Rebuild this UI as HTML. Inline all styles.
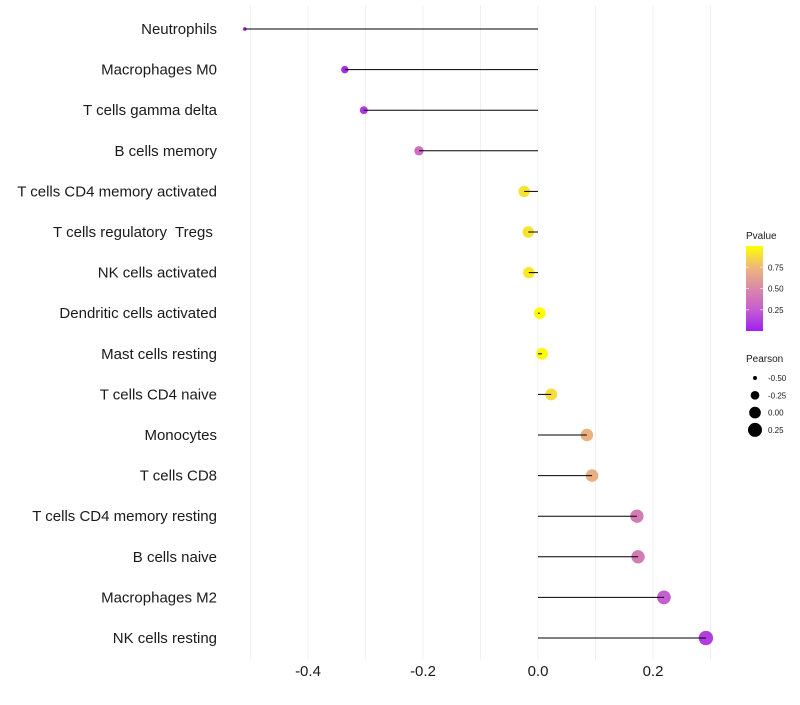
<!DOCTYPE html>
<html><head><meta charset="utf-8"><style>
body{margin:0;background:#fff;font-family:"Liberation Sans",sans-serif}
svg text{font-family:"Liberation Sans",sans-serif;white-space:pre}
</style></head><body>
<svg id="chart" width="800" height="700" xmlns="http://www.w3.org/2000/svg">
<g id="grid"></g><g id="points"></g><g id="marks"></g><g id="labels"></g><g id="legend"></g>
</svg>
<script>
const categories=["Neutrophils","Macrophages M0","T cells gamma delta","B cells memory","T cells CD4 memory activated","T cells regulatory  Tregs ","NK cells activated","Dendritic cells activated","Mast cells resting","T cells CD4 naive","Monocytes","T cells CD8","T cells CD4 memory resting","B cells naive","Macrophages M2","NK cells resting"];
const pearson=[-0.51,-0.336,-0.303,-0.207,-0.024,-0.017,-0.016,0.003,0.007,0.023,0.085,0.094,0.172,0.174,0.219,0.292];
const pvalue=[0.02,0.05,0.1,0.35,0.9,0.9,0.92,1.0,0.98,0.88,0.72,0.7,0.42,0.42,0.25,0.12];
const xTicks=[-0.4,-0.2,0.0,0.2];
const xTickLabels=["-0.4","-0.2","0.0","0.2"];
const xGrid=[-0.5,-0.4,-0.3,-0.2,-0.1,0.0,0.1,0.2,0.3];
const legendPTicks=[0.25,0.5,0.75];
const legendPLabels=["0.25","0.50","0.75"];
const legendSizes=[-0.5,-0.25,0,0.25];
const legendSizeLabels=["-0.50","-0.25","0.00","0.25"];

const NS="http://www.w3.org/2000/svg";
const x=v=>538+v*575;
const y=i=>29+i*40.6;
const rad=r=>Math.sqrt(Math.max(2,34+60*r));
const stops=[[0,[160,32,240]],[0.25,[197,94,208]],[0.5,[218,136,168]],[0.75,[238,183,122]],[1,[255,255,0]]];
function col(p){for(let i=0;i<stops.length-1;i++){const[a,ca]=stops[i],[b,cb]=stops[i+1];if(p<=b){const t=(p-a)/(b-a);return`rgb(${ca.map((c,k)=>Math.round(c+(cb[k]-c)*t)).join(",")})`;}}return"rgb(255,255,0)";}
function el(tag,attrs,parent){const e=document.createElementNS(NS,tag);for(const k in attrs)e.setAttribute(k,attrs[k]);parent.appendChild(e);return e;}
const grid=document.getElementById("grid"),points=document.getElementById("points"),marks=document.getElementById("marks"),labels=document.getElementById("labels"),legend=document.getElementById("legend");
xGrid.forEach(v=>{const l=el("line",{x1:x(v),x2:x(v),y1:5,y2:660,stroke:"#f0f0f0","stroke-width":1},grid);

});
categories.forEach((c,i)=>{
 const p=el("circle",{cx:x(pearson[i]),cy:y(i),r:rad(pearson[i]),fill:col(pvalue[i])},points);
 
 
 const s=el("line",{x1:x(0),x2:x(pearson[i]),y1:y(i),y2:y(i),stroke:"#000","stroke-width":1},marks);
 
 
 const t=el("text",{x:217,y:y(i)+5,"text-anchor":"end","font-size":15,fill:"#1a1a1a"},labels);
 t.textContent=c;
 
 
});
xTicks.forEach((v,i)=>{const t=el("text",{x:x(v),y:676,"text-anchor":"middle","font-size":15,fill:"#1a1a1a"},labels);
t.textContent=xTickLabels[i];

});
const defs=el("defs",{},legend);
const g=el("linearGradient",{id:"pg",x1:0,y1:1,x2:0,y2:0},defs);
stops.forEach(s=>el("stop",{offset:s[0],"stop-color":col(s[0])},g));
const lt=el("text",{x:746,y:239,"font-size":10,fill:"#1a1a1a"},legend);lt.textContent="Pvalue";


const bar=el("rect",{x:746,y:246,width:17,height:85,fill:"url(#pg)"},legend);


const ly=p=>331-p*85;
legendPTicks.forEach((p,i)=>{el("line",{x1:746,x2:749,y1:ly(p),y2:ly(p),stroke:"#fff","stroke-opacity":0.6},legend);el("line",{x1:760,x2:763,y1:ly(p),y2:ly(p),stroke:"#fff","stroke-opacity":0.6},legend);
const t=el("text",{x:768,y:ly(p)+3,"font-size":8,fill:"#1a1a1a"},legend);t.textContent=legendPLabels[i];

});
const st=el("text",{x:746,y:362,"font-size":10,fill:"#1a1a1a"},legend);st.textContent="Pearson";


legendSizes.forEach((r,i)=>{const cy=378+i*17.3;const c=el("circle",{cx:755,cy:cy,r:rad(r),fill:"#000"},legend);


const t=el("text",{x:768,y:cy+3,"font-size":8,fill:"#1a1a1a"},legend);t.textContent=legendSizeLabels[i];

});
</script>
</body></html>
